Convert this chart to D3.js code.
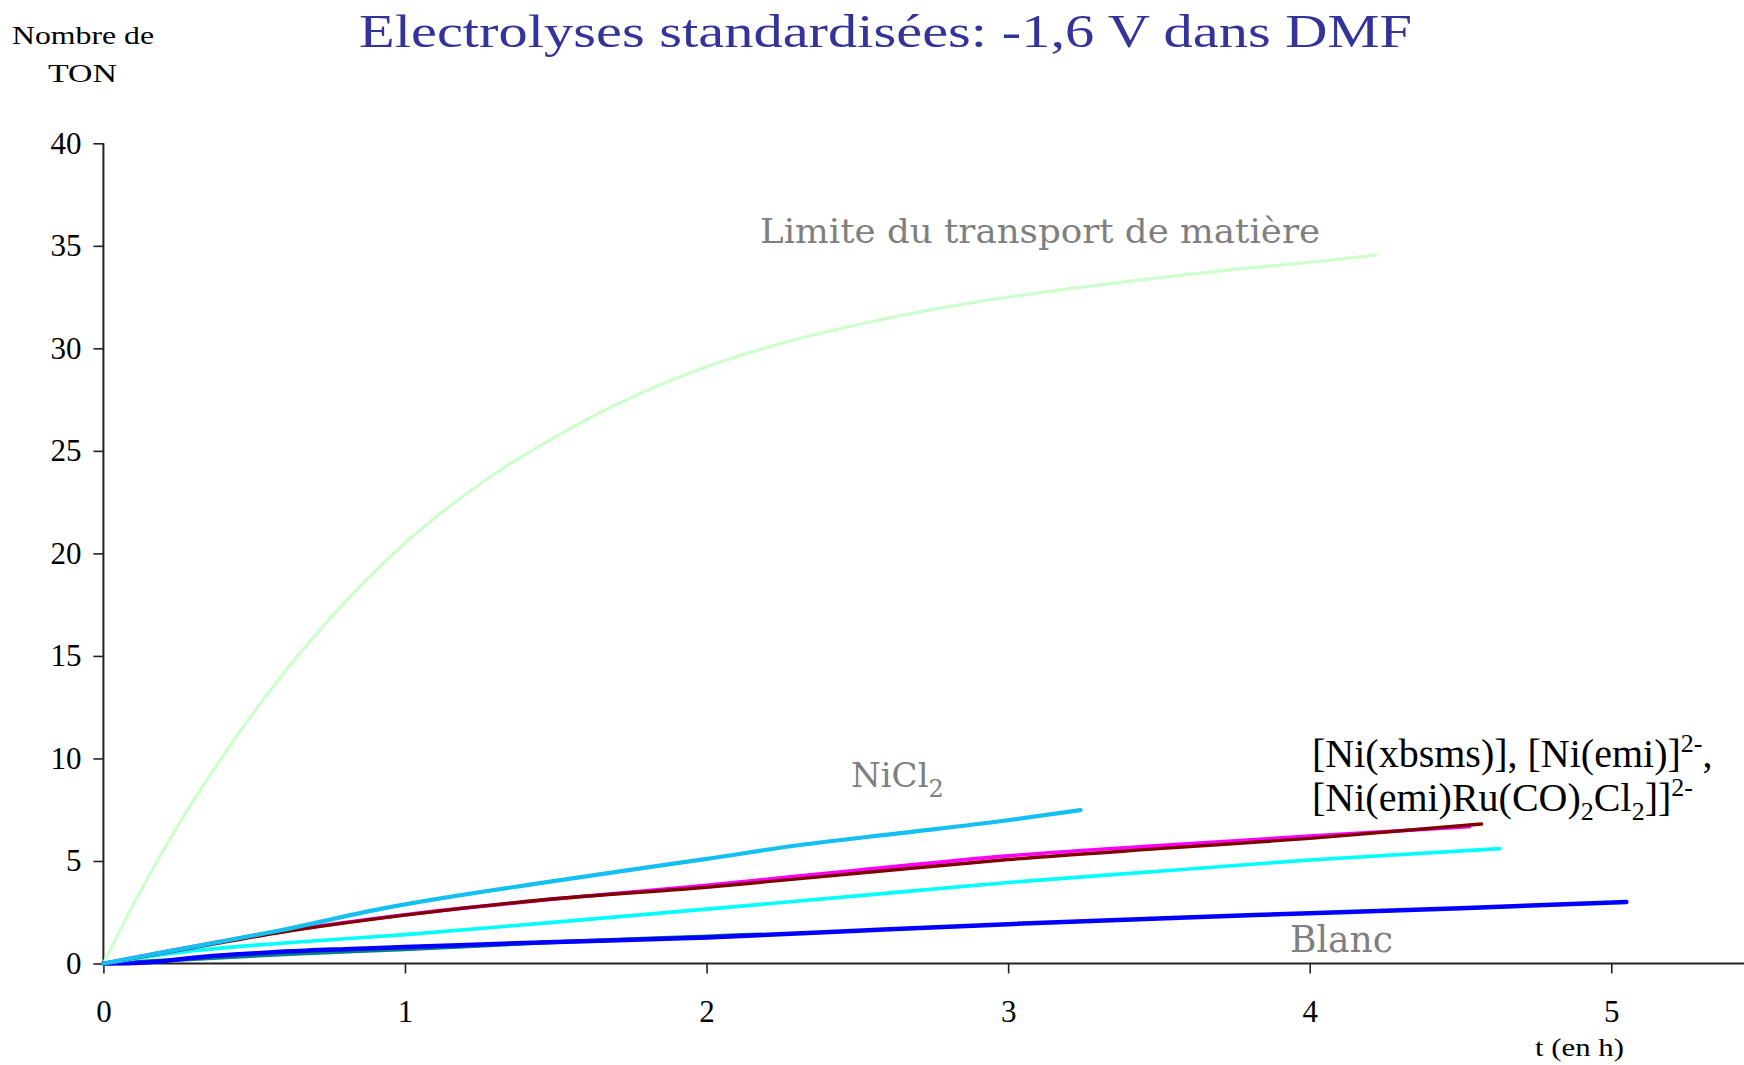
<!DOCTYPE html>
<html>
<head>
<meta charset="utf-8">
<script src="https://cdn.jsdelivr.net/npm/d3@7"></script>
<style>
  html, body { margin: 0; padding: 0; background: #fff; overflow: hidden; }
  svg { display: block; }
</style>
</head>
<body>
<script>
// Axis ticks
const xTicks = [0, 1, 2, 3, 4, 5];
const yTicks = [0, 5, 10, 15, 20, 25, 30, 35, 40];

// Limite du transport de matière
const limiteT = [0, 0.1, 0.25, 0.4, 0.6, 0.8, 1.0, 1.25, 1.5, 1.75, 2.0, 2.25, 2.5, 2.75, 3.0, 3.25, 3.5, 3.75, 4.0, 4.22];
const limiteV = [0, 2.9, 6.8, 10.2, 14.2, 17.6, 20.5, 23.4, 25.7, 27.6, 29.1, 30.25, 31.15, 31.9, 32.5, 33.0, 33.45, 33.85, 34.2, 34.55];

// NiCl2
const nicl2T = [0, 0.136, 0.3, 0.58, 0.95, 1.47, 2.0, 2.31, 2.65, 2.98, 3.24];
const nicl2V = [0, 0.38, 0.82, 1.6, 2.75, 3.97, 5.1, 5.78, 6.37, 6.95, 7.48];

// [Ni(xbsms)]
const xbsmsT = [0, 0.5, 1.0, 1.5, 2.0, 2.5, 3.0, 3.5, 4.0, 4.53];
const xbsmsV = [0, 1.35, 2.38, 3.15, 3.82, 4.55, 5.25, 5.75, 6.21, 6.67];

// [Ni(emi)]2-
const emiT = [0, 0.3, 0.58, 1.0, 1.47, 2.0, 2.5, 3.0, 3.5, 4.0, 4.57];
const emiV = [0, 0.78, 1.5, 2.36, 3.12, 3.72, 4.4, 5.07, 5.6, 6.1, 6.8];

// [Ni(emi)Ru(CO)2Cl2]2-
const ruT = [0, 0.284, 0.6, 1.0, 1.47, 2.0, 2.5, 3.0, 3.5, 4.0, 4.63];
const ruV = [0, 0.6, 1.0, 1.41, 1.98, 2.65, 3.3, 3.95, 4.5, 5.05, 5.6];

// Blanc
const blancT = [0, 0.1, 0.2, 0.3, 0.45, 0.6, 0.8, 1.0, 1.5, 2.0, 2.5, 3.0, 3.5, 4.0, 4.5, 5.05];
const blancV = [0, 0.02, 0.12, 0.28, 0.45, 0.58, 0.7, 0.8, 1.05, 1.27, 1.6, 1.92, 2.2, 2.45, 2.7, 3.0];

// Short second blank run
const blanc2T = [0, 0.3, 0.6, 1.0, 1.47, 2.0, 2.18];
const blanc2V = [0, 0.22, 0.45, 0.7, 1.02, 1.32, 1.42];

const W = 1744, H = 1065;
const svg = d3.select("body").append("svg").attr("width", W).attr("height", H);

const x = d3.scaleLinear().domain([0, 5.44]).range([103.4, 1744]);
const y = d3.scaleLinear().domain([0, 40]).range([963.5, 143.3]);

const serif = "'Liberation Serif', 'Times New Roman', serif";
const wideSerif = "'DejaVu Serif', serif";

// Axes
const yAxis = svg.append("g").attr("transform", `translate(${x(0)},0)`)
  .call(d3.axisLeft(y).tickValues(yTicks).tickSize(10).tickPadding(12).tickFormat(d3.format("d")));
const xAxis = svg.append("g").attr("transform", `translate(0,${y(0)})`)
  .call(d3.axisBottom(x).tickValues(xTicks).tickSize(10).tickPadding(26).tickFormat(d3.format("d")));
[xAxis, yAxis].forEach(g => {
  g.select(".domain").attr("stroke", "#222").attr("stroke-width", 2);
  g.selectAll(".tick line").attr("stroke", "#222").attr("stroke-width", 1.6);
  g.selectAll(".tick text").attr("font-family", serif).attr("font-size", 31).attr("fill", "#000");
});
xAxis.select(".domain").attr("d", `M${x(0)},0H${W}`);
yAxis.select(".domain").attr("d", `M0,${y(40)}V${y(0)}`);

// Series
const series = [
  { t: limiteT, v: limiteV, color: "#ccffcc", width: 3.2 },
  { t: blanc2T, v: blanc2V, color: "#008080", width: 4 },
  { t: blancT, v: blancV, color: "#0000ff", width: 4.5 },
  { t: ruT, v: ruV, color: "#00ffff", width: 3.6 },
  { t: xbsmsT, v: xbsmsV, color: "#ff00ff", width: 3.6 },
  { t: emiT, v: emiV, color: "#800000", width: 3.4 },
  { t: nicl2T, v: nicl2V, color: "#14bff2", width: 4.2 }
];

const line = d3.line().x(d => x(d[0])).y(d => y(d[1])).curve(d3.curveMonotoneX);
svg.append("g").selectAll("path").data(series).join("path")
  .attr("d", s => line(s.t.map((t, i) => [t, s.v[i]])))
  .attr("fill", "none")
  .attr("stroke", s => s.color)
  .attr("stroke-width", s => s.width)
  .attr("stroke-linecap", "round")
  .attr("stroke-linejoin", "round");

// Title
svg.append("text")
  .attr("x", 359).attr("y", 47)
  .attr("font-family", serif).attr("font-size", 47).attr("fill", "#333399")
  .attr("textLength", 1053).attr("lengthAdjust", "spacingAndGlyphs")
  .text("Electrolyses standardisées: -1,6 V dans DMF");

// Axis titles
svg.append("text").attr("x", 12).attr("y", 44)
  .attr("font-family", serif).attr("font-size", 26).attr("fill", "#000")
  .attr("textLength", 142).attr("lengthAdjust", "spacingAndGlyphs")
  .text("Nombre de");
svg.append("text").attr("x", 48).attr("y", 82)
  .attr("font-family", serif).attr("font-size", 26).attr("fill", "#000")
  .attr("textLength", 69).attr("lengthAdjust", "spacingAndGlyphs")
  .text("TON");
svg.append("text").attr("x", 1535).attr("y", 1056)
  .attr("font-family", serif).attr("font-size", 25).attr("fill", "#000")
  .attr("textLength", 89).attr("lengthAdjust", "spacingAndGlyphs")
  .text("t (en h)");

// Series labels
svg.append("text").attr("x", 760).attr("y", 243)
  .attr("font-family", wideSerif).attr("font-size", 34).attr("fill", "#7f7f7f")
  .attr("textLength", 560).attr("lengthAdjust", "spacingAndGlyphs")
  .text("Limite du transport de matière");

const nicl = svg.append("text").attr("x", 851).attr("y", 787)
  .attr("font-family", wideSerif).attr("font-size", 34).attr("fill", "#7f7f7f");
nicl.append("tspan").text("NiCl");
nicl.append("tspan").attr("font-size", 24).attr("dy", 10).text("2");

svg.append("text").attr("x", 1290).attr("y", 952)
  .attr("font-family", wideSerif).attr("font-size", 37).attr("fill", "#7f7f7f")
  .attr("textLength", 103).attr("lengthAdjust", "spacingAndGlyphs")
  .text("Blanc");

const l1 = svg.append("text").attr("x", 1312).attr("y", 767)
  .attr("font-family", serif).attr("font-size", 40).attr("fill", "#000");
l1.append("tspan").text("[Ni(xbsms)], [Ni(emi)]");
l1.append("tspan").attr("font-size", 26).attr("dy", -15).text("2-");
l1.append("tspan").attr("dy", 15).text(",");

const l2 = svg.append("text").attr("x", 1312).attr("y", 811)
  .attr("font-family", serif).attr("font-size", 40).attr("fill", "#000");
l2.append("tspan").text("[Ni(emi)Ru(CO)");
l2.append("tspan").attr("font-size", 26).attr("dy", 9).text("2");
l2.append("tspan").attr("dy", -9).text("Cl");
l2.append("tspan").attr("font-size", 26).attr("dy", 9).text("2");
l2.append("tspan").attr("dy", -9).text("]]");
l2.append("tspan").attr("font-size", 26).attr("dy", -15).text("2-");
</script>
</body>
</html>
